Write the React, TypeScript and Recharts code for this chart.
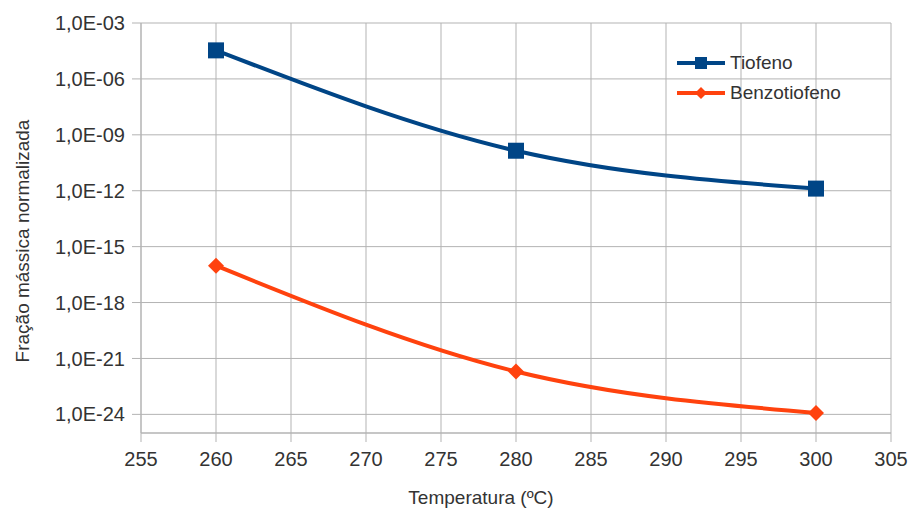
import {
  LineChart,
  Line,
  XAxis,
  YAxis,
  CartesianGrid,
  Legend,
  Label,
} from "recharts";

const temperaturas = [260, 280, 300];
const tiofeno = [3.4e-5, 1.4e-10, 1.3e-12];
const benzotiofeno = [9.5e-17, 2.0e-22, 1.2e-24];

const xTicks = [255, 260, 265, 270, 275, 280, 285, 290, 295, 300, 305];
const yTicks = [1e-24, 1e-21, 1e-18, 1e-15, 1e-12, 1e-9, 1e-6, 1e-3];

const BLUE = "#004586";
const ORANGE = "#ff420e";
const GRID = "#b3b3b3";
const TEXT = "#333333";
const FONT = "'Liberation Sans', Arial, sans-serif";

const data = temperaturas.map((t, i) => ({
  temp: t,
  tiofeno: tiofeno[i],
  benzotiofeno: benzotiofeno[i],
}));

const formatSci = (v: number) => {
  const exp = Math.round(-Math.log10(v));
  return "1,0E-" + String(exp).padStart(2, "0");
};

const SquareDot = (props: any) => {
  const { cx, cy } = props;
  if (cx == null || cy == null) return null;
  return <rect x={cx - 8} y={cy - 8} width={16} height={16} fill={BLUE} />;
};

const DiamondDot = (props: any) => {
  const { cx, cy } = props;
  if (cx == null || cy == null) return null;
  const r = 8;
  return (
    <polygon
      points={`${cx},${cy - r} ${cx + r},${cy} ${cx},${cy + r} ${cx - r},${cy}`}
      fill={ORANGE}
    />
  );
};

const legendItems = [
  { name: "Tiofeno", color: BLUE, marker: "square" },
  { name: "Benzotiofeno", color: ORANGE, marker: "diamond" },
];

const renderLegend = () => (
  <div style={{ fontFamily: FONT, fontSize: 19, color: TEXT }}>
    {legendItems.map((item) => (
      <div
        key={item.name}
        style={{ display: "flex", alignItems: "center", height: 30 }}
      >
        <svg width={50} height={16} style={{ marginRight: 4 }}>
          <line x1={1} y1={8} x2={49} y2={8} stroke={item.color} strokeWidth={4} />
          {item.marker === "square" ? (
            <rect x={19} y={2} width={12} height={12} fill={item.color} />
          ) : (
            <polygon points="25,2 31,8 25,14 19,8" fill={item.color} />
          )}
        </svg>
        <span>{item.name}</span>
      </div>
    ))}
  </div>
);

const YTitle = (props: any) => {
  const { viewBox } = props;
  const x = viewBox.x + 22;
  const y = viewBox.y + viewBox.height / 2 + 13;
  return (
    <text
      x={x}
      y={y}
      transform={`rotate(-90, ${x}, ${y})`}
      textAnchor="middle"
      dominantBaseline="central"
      fontFamily={FONT}
      fontSize={19}
      fill={TEXT}
    >
      Fração mássica normalizada
    </text>
  );
};

export default function App() {
  return (
    <div style={{ position: "absolute", left: 0, top: 0 }}>
      <LineChart
        width={908}
        height={508}
        data={data}
        margin={{ top: 23, right: 17, bottom: 0, left: 0 }}
      >
        <CartesianGrid stroke={GRID} strokeWidth={1} />
        <XAxis
          dataKey="temp"
          type="number"
          domain={[255, 305]}
          ticks={xTicks}
          height={75}
          tickSize={9}
          tickMargin={10}
          stroke={GRID}
          tick={{ fill: TEXT, fontSize: 20, fontFamily: FONT }}
        >
          <Label
            value="Temperatura (ºC)"
            position="insideBottom"
            offset={4}
            dx={-35}
            style={{ fill: TEXT, fontSize: 19, fontFamily: FONT }}
          />
        </XAxis>
        <YAxis
          type="number"
          scale="log"
          domain={[1e-25, 1e-3]}
          allowDataOverflow
          ticks={yTicks}
          width={141}
          tickSize={9}
          tickMargin={7}
          stroke={GRID}
          tickFormatter={formatSci}
          tick={{ fill: TEXT, fontSize: 20, fontFamily: FONT }}
        >
          <Label content={YTitle} />
        </YAxis>
        <Legend
          layout="vertical"
          align="center"
          verticalAlign="middle"
          content={renderLegend}
          wrapperStyle={{ left: 676, top: 48, width: "auto" }}
        />
        <Line
          dataKey="tiofeno"
          name="Tiofeno"
          type="monotone"
          stroke={BLUE}
          strokeWidth={4}
          dot={<SquareDot />}
          activeDot={false}
          isAnimationActive={false}
        />
        <Line
          dataKey="benzotiofeno"
          name="Benzotiofeno"
          type="monotone"
          stroke={ORANGE}
          strokeWidth={4}
          dot={<DiamondDot />}
          activeDot={false}
          isAnimationActive={false}
        />
      </LineChart>
    </div>
  );
}
